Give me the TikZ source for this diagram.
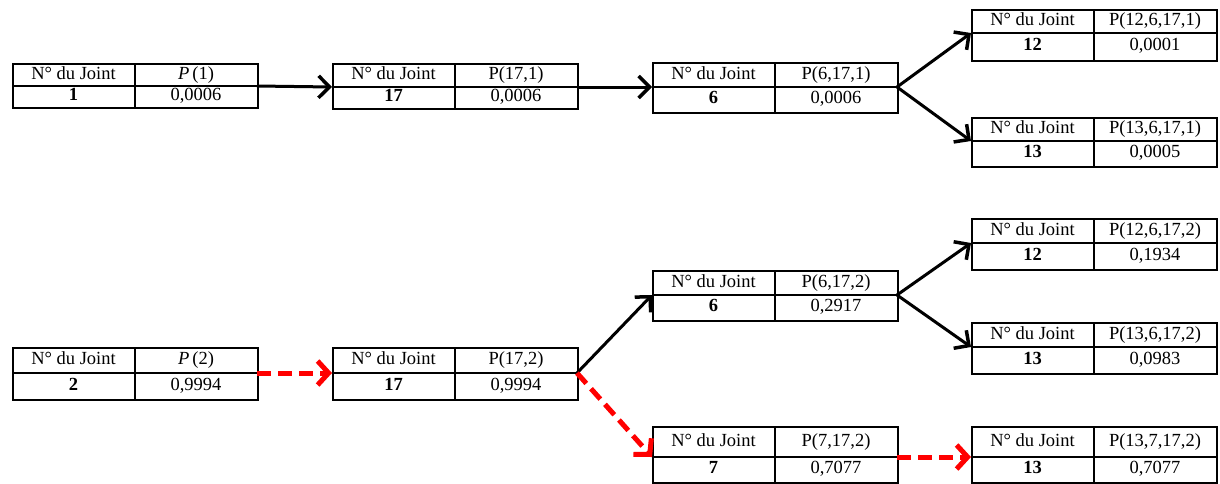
\documentclass[tikz,border=0pt]{standalone}
\usepackage{fontspec}
\setmainfont{Liberation Serif}
\usetikzlibrary{arrows.meta}
\tikzset{
 tbox/.style={draw=black, line width=1.6pt, inner sep=0pt, anchor=north west},
 tline/.style={line width=1.6pt},
 celltext/.style={inner sep=0pt, font=\fontsize{18.5}{20}\selectfont, text height=12.5pt, text depth=4pt},
 blackarrow/.style={line width=3pt, -{Straight Barb[length=11pt,width=22pt,line width=3.5pt]}},
 redarrow/.style={draw=red, line width=5pt, dash pattern=on 14pt off 7pt, -{Straight Barb[length=11pt,width=24pt]}},
}
\newcommand\jtab[8]{%
 \node[tbox, minimum width=245pt, minimum height={(#5-#3)*1pt}] (#1) at (#2,#3) {};
 \draw[tline] (#2,#4) -- ({#2+245},#4);
 \draw[tline] ({#2+123},#3) -- ({#2+123},#5);
 \node[celltext] (#1-h1) at ({#2+61.5},{(#3+#4)/2+0.5}) {N° du Joint};
 \node[celltext] (#1-h2) at ({#2+184},{(#3+#4)/2+0.5}) {#7};
 \node[celltext] (#1-v1) at ({#2+61.5},{(#4+#5)/2}) {\textbf{#6}};
 \node[celltext] (#1-v2) at ({#2+184},{(#4+#5)/2}) {#8};
 \coordinate (#1-in) at (#2,#4);
 \coordinate (#1-out) at ({#2+245},#4);
}
\begin{document}
\begin{tikzpicture}[x=1pt,y=-1pt]
\useasboundingbox (0,0) rectangle (1220,483);
\jtab{a1}{12}{63}{86}{107}{1}{\textit{P}\,(1)}{0,0006}
\jtab{a2}{332}{63}{87}{108}{17}{P(17,1)}{0,0006}
\jtab{a3}{652}{62}{87}{112}{6}{P(6,17,1)}{0,0006}
\jtab{a4}{971}{9}{33}{60}{12}{P(12,6,17,1)}{0,0001}
\jtab{a5}{971}{117}{141}{166}{13}{P(13,6,17,1)}{0,0005}
\jtab{b6}{652}{270}{295}{320}{6}{P(6,17,2)}{0,2917}
\jtab{b7}{971}{218}{243}{269}{12}{P(12,6,17,2)}{0,1934}
\jtab{b8}{971}{322}{347}{373}{13}{P(13,6,17,2)}{0,0983}
\jtab{b1}{12}{347}{373}{399}{2}{\textit{P}\,(2)}{0,9994}
\jtab{b2}{332}{347}{373}{399}{17}{P(17,2)}{0,9994}
\jtab{c1}{652}{426}{457}{482}{7}{P(7,17,2)}{0,7077}
\jtab{c2}{971}{426}{457}{482}{13}{P(13,7,17,2)}{0,7077}
\draw[blackarrow] (a1-out) -- (a2-in);
\draw[blackarrow] (a2-out) -- (a3-in);
\draw[blackarrow] (a3-out) -- (a4-in);
\draw[blackarrow] (a3-out) -- (a5-in);
\draw[redarrow] (b1-out) -- (b2-in);
\draw[blackarrow] (b2-out) -- (b6-in);
\draw[redarrow] (b2-out) -- (c1-in);
\draw[blackarrow] (b6-out) -- (b7-in);
\draw[blackarrow] (b6-out) -- (b8-in);
\draw[redarrow] (c1-out) -- (c2-in);
\end{tikzpicture}
\end{document}
